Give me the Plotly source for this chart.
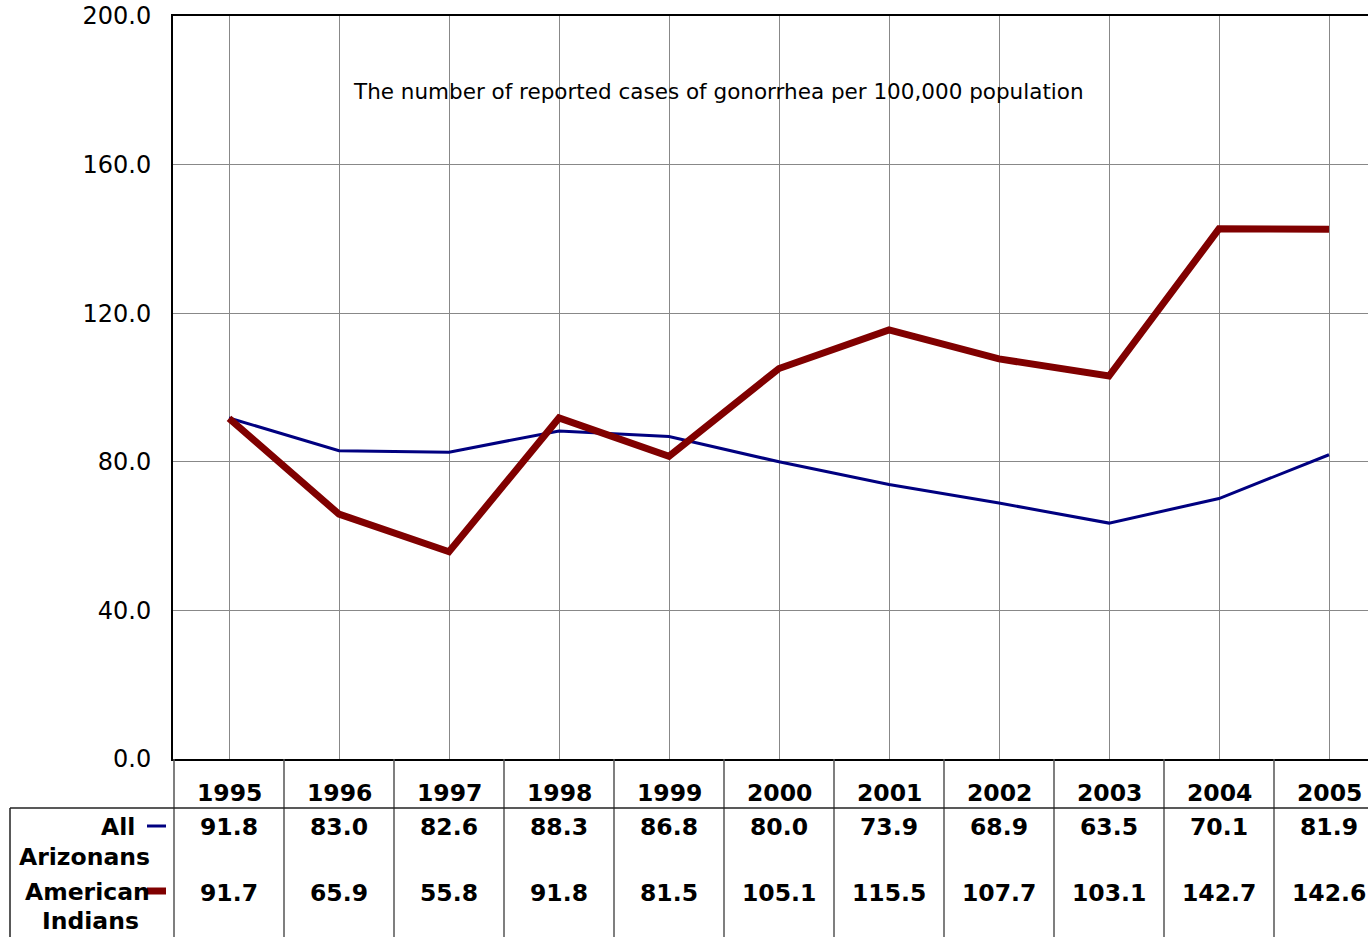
import plotly.graph_objects as go

years = ["1995", "1996", "1997", "1998", "1999", "2000", "2001", "2002", "2003", "2004", "2005"]
all_arizonans = [91.8, 83.0, 82.6, 88.3, 86.8, 80.0, 73.9, 68.9, 63.5, 70.1, 81.9]
american_indians = [91.7, 65.9, 55.8, 91.8, 81.5, 105.1, 115.5, 107.7, 103.1, 142.7, 142.6]
y_ticks = [0, 40, 80, 120, 160, 200]
y_tick_text = ["0.0", "40.0", "80.0", "120.0", "160.0", "200.0"]
title_text = "The number of reported cases of gonorrhea per 100,000 population"

W, H = 1368, 937
ML, MR, MT, MB = 173, 0, 16, 178
band = 110.0
plot_w = W - ML - MR
plot_h = H - MT - MB
xmin = -0.5 - 1.0 / band
xmax = xmin + plot_w / band

FONT = "Verdana, DejaVu Sans, sans-serif"
BLUE = "#000080"
RED = "#800000"
BSIZE = 23.5

def py(pix):
    return (H - MB - pix) / plot_h

def px(pix):
    return (pix - ML) / plot_w

xs = list(range(len(years)))

fig = go.Figure()
fig.add_trace(go.Scatter(x=xs, y=all_arizonans, mode="lines", line=dict(color=BLUE, width=3),
                         name="All Arizonans", showlegend=False))
fig.add_trace(go.Scatter(x=xs, y=american_indians, mode="lines", line=dict(color=RED, width=7),
                         name="American Indians", showlegend=False))

shapes = []
for i in range(-1, len(years)):
    xb = i + 0.5
    if xb > xmax:
        continue
    xp = max((xb - xmin) / (xmax - xmin), 0)
    shapes.append(dict(type="line", xref="paper", yref="paper", x0=xp, x1=xp,
                       y0=0, y1=py(H + 2), line=dict(color="#555555", width=1.5)))
shapes.append(dict(type="line", xref="paper", yref="paper", x0=px(10), x1=1, y0=py(808), y1=py(808),
                   line=dict(color="#222222", width=1.5)))
shapes.append(dict(type="line", xref="paper", yref="paper", x0=px(10), x1=px(10), y0=py(808), y1=py(H + 2),
                   line=dict(color="#222222", width=1.5)))
shapes.append(dict(type="line", xref="paper", yref="paper", x0=px(147), x1=px(166), y0=py(826), y1=py(826),
                   line=dict(color=BLUE, width=3)))
shapes.append(dict(type="line", xref="paper", yref="paper", x0=px(147), x1=px(166), y0=py(891), y1=py(891),
                   line=dict(color=RED, width=7)))

ann = []
ann.append(dict(text=title_text, x=px(718), y=py(91), xref="paper", yref="paper", showarrow=False,
                font=dict(family=FONT, size=21.5, color="black"), xanchor="center", yanchor="middle"))
for i, yr in enumerate(years):
    ann.append(dict(text="<b>%s</b>" % yr, x=i, xref="x", y=py(793), yref="paper", showarrow=False,
                    font=dict(family=FONT, size=BSIZE, color="black"), xanchor="center", yanchor="middle"))
    ann.append(dict(text="<b>%.1f</b>" % all_arizonans[i], x=i, xref="x", y=py(827), yref="paper",
                    showarrow=False, font=dict(family=FONT, size=BSIZE, color="black"),
                    xanchor="center", yanchor="middle"))
    ann.append(dict(text="<b>%.1f</b>" % american_indians[i], x=i, xref="x", y=py(893), yref="paper",
                    showarrow=False, font=dict(family=FONT, size=BSIZE, color="black"),
                    xanchor="center", yanchor="middle"))
labels = [("All", 137, 827, "right"), ("Arizonans", 17, 857, "left"),
          ("American", 23, 892, "left"), ("Indians", 40, 921, "left")]
for t, lx, ly, anc in labels:
    ann.append(dict(text="<b>%s</b>" % t, x=px(lx), y=py(ly), xref="paper", yref="paper", showarrow=False,
                    font=dict(family=FONT, size=BSIZE, color="black"), xanchor=anc, yanchor="middle"))

fig.update_layout(
    width=W, height=H,
    margin=dict(l=ML, r=MR, t=MT, b=MB, pad=0),
    paper_bgcolor="white", plot_bgcolor="white",
    shapes=shapes, annotations=ann,
    xaxis=dict(range=[xmin, xmax], tickvals=xs, showticklabels=False, showgrid=True,
               gridcolor="#888888", gridwidth=1, zeroline=False, showline=True, linecolor="black",
               linewidth=2, mirror=True, ticks=""),
    yaxis=dict(range=[0, 200], tickvals=y_ticks, ticktext=y_tick_text, showgrid=True,
               gridcolor="#888888", gridwidth=1, zeroline=False, showline=True, linecolor="black",
               linewidth=2, ticks="", ticklabelstandoff=15,
               tickfont=dict(family=FONT, size=24, color="black")),
)
fig.write_html("out.html", config={"displayModeBar": False},
               post_script="document.body.style.margin='0';document.body.style.padding='0';"
                           "document.body.style.overflow='hidden';")
